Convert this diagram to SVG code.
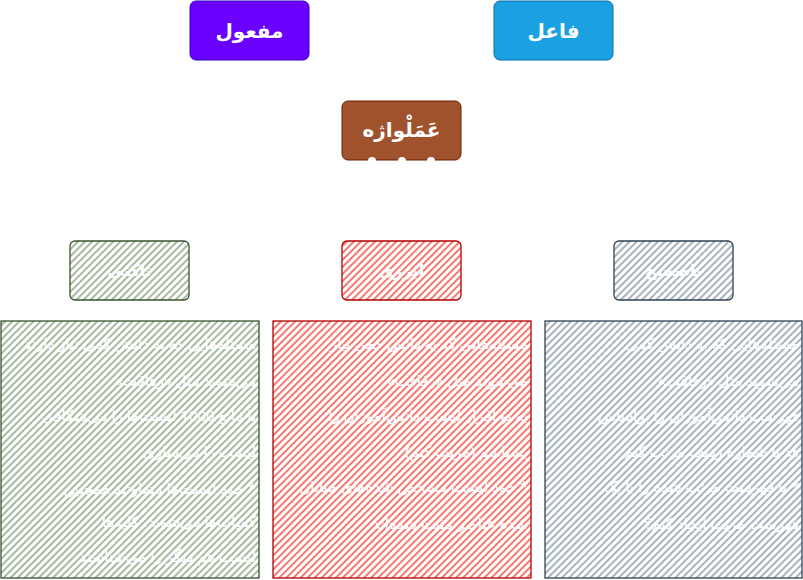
<svg xmlns="http://www.w3.org/2000/svg" width="803" height="580" viewBox="0 0 803 580">
<style>
.t{font-family:"Noto Sans","DejaVu Sans",sans-serif;fill:#fff;font-weight:bold;font-size:20px;text-anchor:middle;dominant-baseline:central}
.s{font-family:"Noto Sans","DejaVu Sans",sans-serif;fill:#fff;font-size:15px;text-anchor:start;direction:rtl}
.l{font-family:"Noto Sans","DejaVu Sans",sans-serif;fill:#fff;font-weight:bold;font-size:16px;text-anchor:middle;dominant-baseline:central}
</style>
<defs>
<pattern id="hg" width="5" height="5" patternUnits="userSpaceOnUse" patternTransform="rotate(45)"><rect width="5" height="5" fill="#fff"/><rect width="2" height="5" fill="#a8b9a2"/></pattern>
<pattern id="hr" width="5" height="5" patternUnits="userSpaceOnUse" patternTransform="rotate(45)"><rect width="5" height="5" fill="#fff"/><rect width="2" height="5" fill="#f27a72"/></pattern>
<pattern id="hb" width="5" height="5" patternUnits="userSpaceOnUse" patternTransform="rotate(45)"><rect width="5" height="5" fill="#fff"/><rect width="2" height="5" fill="#a9b3bd"/></pattern>
</defs>
<g id="connectors"></g>
<g id="mafool"><rect x="190" y="1" width="119" height="59" rx="6" fill="#6a00ff" stroke="#3700cc"/><text class="t" x="249.5" y="30">مفعول</text></g>
<g id="fael"><rect x="494" y="1" width="119" height="59" rx="6" fill="#1ba1e2" stroke="#006eaf"/><text class="t" x="553.5" y="30">فاعل</text></g>
<g id="amalvazhe"><rect x="342" y="101" width="119" height="59" rx="6" fill="#a0522d" stroke="#6d1f00"/><text class="t" x="401.5" y="129">عَمَلْواژه</text>
<circle cx="372" cy="161" r="4" fill="#fff"/><circle cx="402" cy="161" r="4" fill="#fff"/><circle cx="431" cy="161" r="4" fill="#fff"/></g>
<g id="lg"><rect x="70" y="241" width="119" height="59" rx="5" fill="url(#hg)" stroke="#3a5431" stroke-width="1.3"/><text class="l" x="129.5" y="270">تاکتی</text></g>
<g id="lr"><rect x="342" y="241" width="119" height="59" rx="5" fill="url(#hr)" stroke="#b20000" stroke-width="1.3"/><text class="l" x="401.5" y="270">ابزری</text></g>
<g id="lb"><rect x="614" y="241" width="119" height="59" rx="5" fill="url(#hb)" stroke="#314354" stroke-width="1.3"/><text class="l" x="673.5" y="270">ناصحیح</text></g>
<g id="bg"><rect x="1" y="321" width="258" height="257" fill="url(#hg)" stroke="#3a5431" stroke-width="1.3"/>
<text class="s" x="256" y="349">مسئله‌هایی که به دانش کمی نیاز دارند</text>
<text class="s" x="256" y="386">می‌شوند مثل «رفاقت»</text>
<text class="s" x="256" y="421">با مانع 1000 لیست‌ها را می‌شکافی</text>
<text class="s" x="256" y="457">لیست را می‌سازی</text>
<text class="s" x="256" y="494">* خود لیست‌ها متفاوتند همچنین</text>
<text class="s" x="256" y="527">کمیاب‌ها می‌شوند، کلیه‌ها</text>
<text class="s" x="256" y="562">لیست هم دیگر را می‌شناسند</text></g>
<g id="br"><rect x="273" y="321" width="258" height="257" fill="url(#hr)" stroke="#b20000" stroke-width="1.3"/>
<text class="s" x="528" y="349">مسئله‌هایی که به دانش کمی نیاز</text>
<text class="s" x="528" y="386">می‌شوند مثل «رفاقت»</text>
<text class="s" x="528" y="421">به تو افزار لیست دانش‌آموزان را</text>
<text class="s" x="528" y="457">بشناسم (مرتب کنم)</text>
<text class="s" x="528" y="492">* خود لیست مشخص شده‌های خیابان</text>
<text class="s" x="528" y="529">شده عناصر مثبت شده‌اند</text></g>
<g id="bb"><rect x="545" y="321" width="257" height="257" fill="url(#hb)" stroke="#314354" stroke-width="1.3"/>
<text class="s" x="799" y="349">مسئله‌هایی که به دانش کمی</text>
<text class="s" x="799" y="386">می‌شوند مثل «رفاقت»</text>
<text class="s" x="799" y="421">فهرست دانش‌آموزان را براساس</text>
<text class="s" x="799" y="457">قد یا شماره ردیف مرتب کنم</text>
<text class="s" x="799" y="492">* با فهرست مرتب شده را با یک</text>
<text class="s" x="799" y="529">فهرست مرتب ایجاد کنم؟</text></g>
</svg>
